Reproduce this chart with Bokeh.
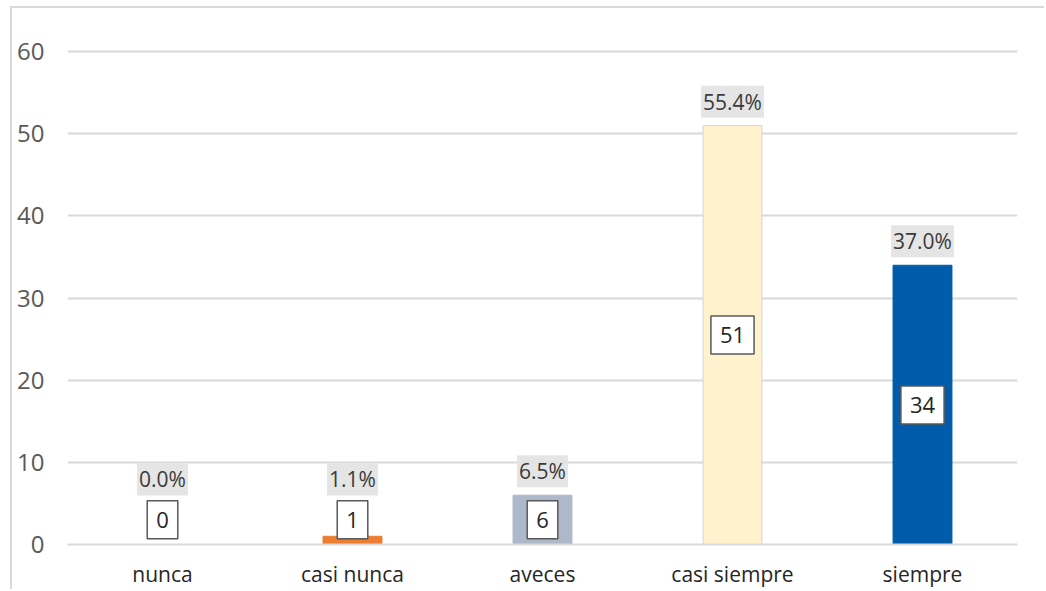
from bokeh.plotting import figure
from bokeh.models import ColumnDataSource, Range1d, FactorRange
from bokeh.core.properties import value
from bokeh.embed import file_html
from bokeh.resources import INLINE
import numpy as np

categories = ["nunca", "casi nunca", "aveces", "casi siempre", "siempre"]
counts = [0, 1, 6, 51, 34]
percent_labels = ["0.0%", "1.1%", "6.5%", "55.4%", "37.0%"]
colors = ["#4472c4", "#ed7d31", "#adb9ca", "#fff2cc", "#005baa"]
edge_colors = ["#4472c4", "#ed7d31", "#adb9ca", "#d6d6d6", "#005baa"]
y_ticks = [0, 10, 20, 30, 40, 50, 60]

counts_arr = np.array(counts, dtype=float)
src = ColumnDataSource(dict(
    cat=categories,
    val=counts,
    color=colors,
    edge=edge_colors,
    pct=percent_labels,
    pct_y=np.maximum(counts_arr, 5),
    box_y=np.maximum(counts_arr / 2, 3),
    txt=[str(c) for c in counts],
))

p = figure(
    x_range=FactorRange(*categories, range_padding=0),
    y_range=Range1d(0, 61),
    width=1034, height=583,
    output_backend="svg", toolbar_location=None,
    min_border_left=55, min_border_right=29,
    min_border_top=35, min_border_bottom=47,
)
p.styles = {"margin-left": "10px", "margin-top": "6px",
            "border-left": "2px solid #d9d9d9", "border-top": "2px solid #d9d9d9"}
p.outline_line_color = None
p.background_fill_color = "white"

p.vbar(x="cat", top="val", width=0.31, fill_color="color", line_color="edge",
       line_width=1, source=src)

# percentage labels
p.text(x="cat", y="pct_y", text="pct", source=src,
       text_font=value("Open Sans"), text_font_size="21px", text_color="#3a3a3a",
       text_align="center", text_baseline="middle", y_offset=-24,
       background_fill_color="#e2e2e2", background_fill_alpha=0.9,
       padding=2)

# value boxes
p.text(x="cat", y="box_y", text="txt", source=src,
       text_font=value("Open Sans"), text_font_size="22px", text_color="#262626",
       text_align="center", text_baseline="middle",
       background_fill_color="white", border_line_color="#595959",
       border_line_width=1.5, padding=dict(left=9, right=9, top=11, bottom=11))

p.yaxis.ticker = y_ticks
p.yaxis.axis_line_color = None
p.yaxis.major_tick_line_color = None
p.yaxis.minor_tick_line_color = None
p.yaxis.major_label_text_font = "Open Sans"
p.yaxis.major_label_text_font_size = "24px"
p.yaxis.major_label_text_color = "#595959"
p.yaxis.major_label_standoff = 17

p.xaxis.axis_line_color = "#d9d9d9"
p.xaxis.axis_line_width = 2
p.xaxis.major_tick_line_color = None
p.xaxis.minor_tick_line_color = None
p.xaxis.major_label_text_font = "Open Sans"
p.xaxis.major_label_text_font_size = "21px"
p.xaxis.major_label_text_color = "#262626"
p.xaxis.major_label_standoff = 9

p.xgrid.grid_line_color = None
p.ygrid.grid_line_color = "#d9d9d9"
p.ygrid.grid_line_width = 2

open("out.html", "w").write(file_html(p, INLINE))
